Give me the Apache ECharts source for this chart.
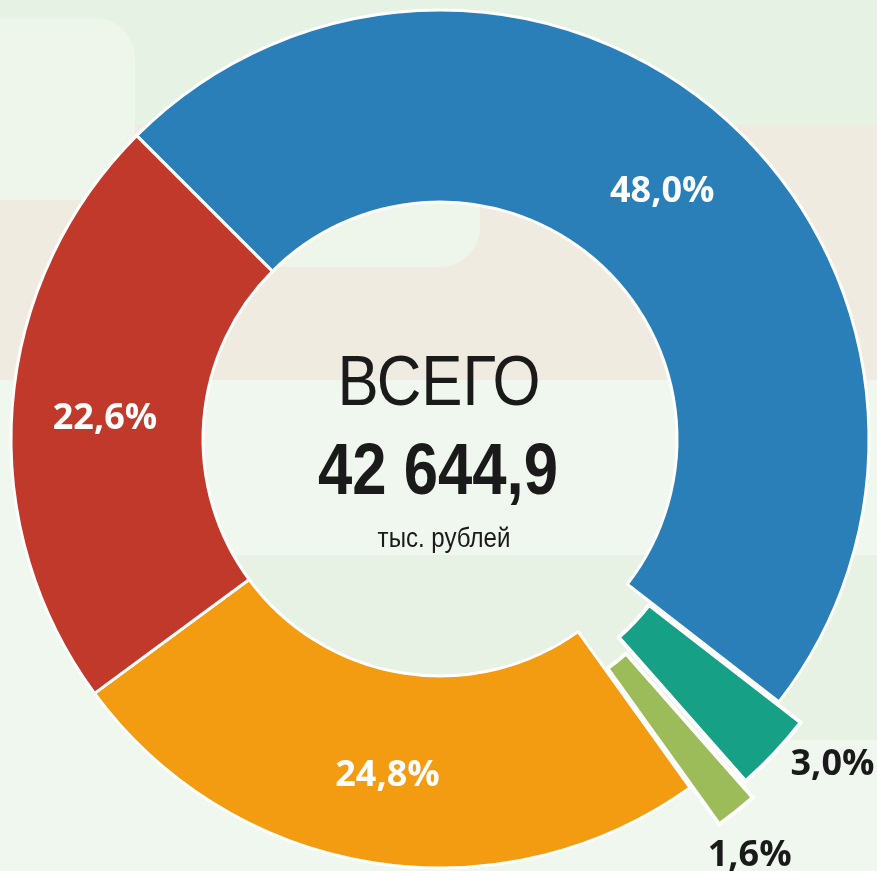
<!DOCTYPE html>
<html><head><meta charset="utf-8">
<script src="https://cdn.jsdelivr.net/npm/echarts@6/dist/echarts.min.js"></script>
<style>html,body{margin:0;padding:0;background:#eff7ee;overflow:hidden}#c{width:877px;height:871px}</style>
</head><body><div id="c"></div>
<script>
// ---- data ----
const categories = ['Статья 1', 'Статья 2', 'Статья 3', 'Статья 4', 'Статья 5'];
const shares = [48.0, 3.0, 1.6, 24.8, 22.6];
const totalValue = 42644.9;
const centerTitle = 'ВСЕГО';
const unitLabel = 'тыс. рублей';

// ---- styling ----
const colors = ['#2b7fb8', '#16a085', '#9cbb59', '#f39c12', '#c0392b'];
const explodeOffsets = [0, 30, 47, 0, 0];
const outsideLen = [0, 15, 55, 0, 0];
const outsideDx = [0, 0, -26, 0, 0];
const CX = 440, CY = 439, R0 = 237, R1 = 429;

const fmtPct = v => v.toFixed(1).replace('.', ',') + '%';
const fmtTotal = v => {
  const [i, d] = v.toFixed(1).split('.');
  return i.replace(/\B(?=(\d{3})+(?!\d))/g, ' ') + ',' + d;
};
const transparent = 'rgba(0,0,0,0)';
const labelFont = { fontFamily: "'Open Sans', sans-serif", fontWeight: 'bold', fontSize: 36 };

function makeSeries(visibleIdx, exploded) {
  return {
    type: 'pie',
    center: [CX, CY],
    radius: [R0, R1],
    startAngle: 135,
    clockwise: true,
    silent: true,
    animation: false,
    avoidLabelOverlap: false,
    selectedMode: exploded ? 'multiple' : false,
    selectedOffset: exploded ? explodeOffsets[visibleIdx[0]] : 0,
    emphasis: { disabled: true },
    labelLine: { show: false, length: exploded ? outsideLen[visibleIdx[0]] : 0, length2: 0 },
    labelLayout: exploded
      ? { dx: outsideDx[visibleIdx[0]], dy: 1, align: visibleIdx[0] === 2 ? 'center' : 'left' }
      : { dy: 5 },
    data: categories.map((name, i) => {
      const vis = visibleIdx.includes(i);
      const style = vis
        ? { color: colors[i], borderColor: '#ffffff', borderWidth: exploded ? 4 : 3 }
        : { color: transparent, borderWidth: 0 };
      return {
        name, value: shares[i],
        selected: vis && exploded,
        itemStyle: style,
        select: { itemStyle: style },
        label: vis ? (exploded
          ? Object.assign({ show: true, position: 'outside', color: '#1a1a1a', overflow: 'none', formatter: p => fmtPct(p.value) }, labelFont)
          : Object.assign({ show: true, position: 'inside', color: '#ffffff', formatter: p => fmtPct(p.value) }, labelFont))
          : { show: false }
      };
    })
  };
}

const mainIdx = shares.map((_, i) => i).filter(i => explodeOffsets[i] === 0);
const series = [makeSeries(mainIdx, false)];
shares.forEach((_, i) => { if (explodeOffsets[i] > 0) series.push(makeSeries([i], true)); });

const sans = "'Liberation Sans', Arial, sans-serif";
const chart = echarts.init(document.getElementById('c'), null, { renderer: 'canvas' });
chart.setOption({
  backgroundColor: '#eff7ee',
  animation: false,
  graphic: [
    { type: 'rect', z: -10, silent: true, shape: { x: 0, y: 0, width: 877, height: 130 }, style: { fill: '#e6f2e4' } },
    { type: 'rect', z: -9, silent: true, shape: { x: 0, y: 125, width: 877, height: 255 }, style: { fill: '#f0ebe0' } },
    { type: 'rect', z: -8, silent: true, shape: { x: -40, y: 18, width: 175, height: 182, r: 40 }, style: { fill: '#eef6ec' } },
    { type: 'rect', z: -8, silent: true, shape: { x: 150, y: 120, width: 330, height: 147, r: 40 }, style: { fill: '#eef6ec' } },
    { type: 'rect', z: -9, silent: true, shape: { x: 200, y: 555, width: 760, height: 185, r: 40 }, style: { fill: '#e7f1e4' } },
    { type: 'text', z: 100, silent: true, x: CX - 1, y: 385, scaleX: 0.87, style: { text: centerTitle, fontFamily: sans, fontSize: 71, fill: '#1a1a1a', align: 'center', verticalAlign: 'middle' } },
    { type: 'text', z: 100, silent: true, x: CX - 2, y: 474, scaleX: 0.845, style: { text: fmtTotal(totalValue), fontFamily: sans, fontWeight: 'bold', fontSize: 73, fill: '#1a1a1a', align: 'center', verticalAlign: 'middle' } },
    { type: 'text', z: 100, silent: true, x: CX + 4, y: 539, scaleX: 0.86, style: { text: unitLabel, fontFamily: sans, fontSize: 28, fill: '#1a1a1a', align: 'center', verticalAlign: 'middle' } }
  ],
  series
});
</script></body></html>
